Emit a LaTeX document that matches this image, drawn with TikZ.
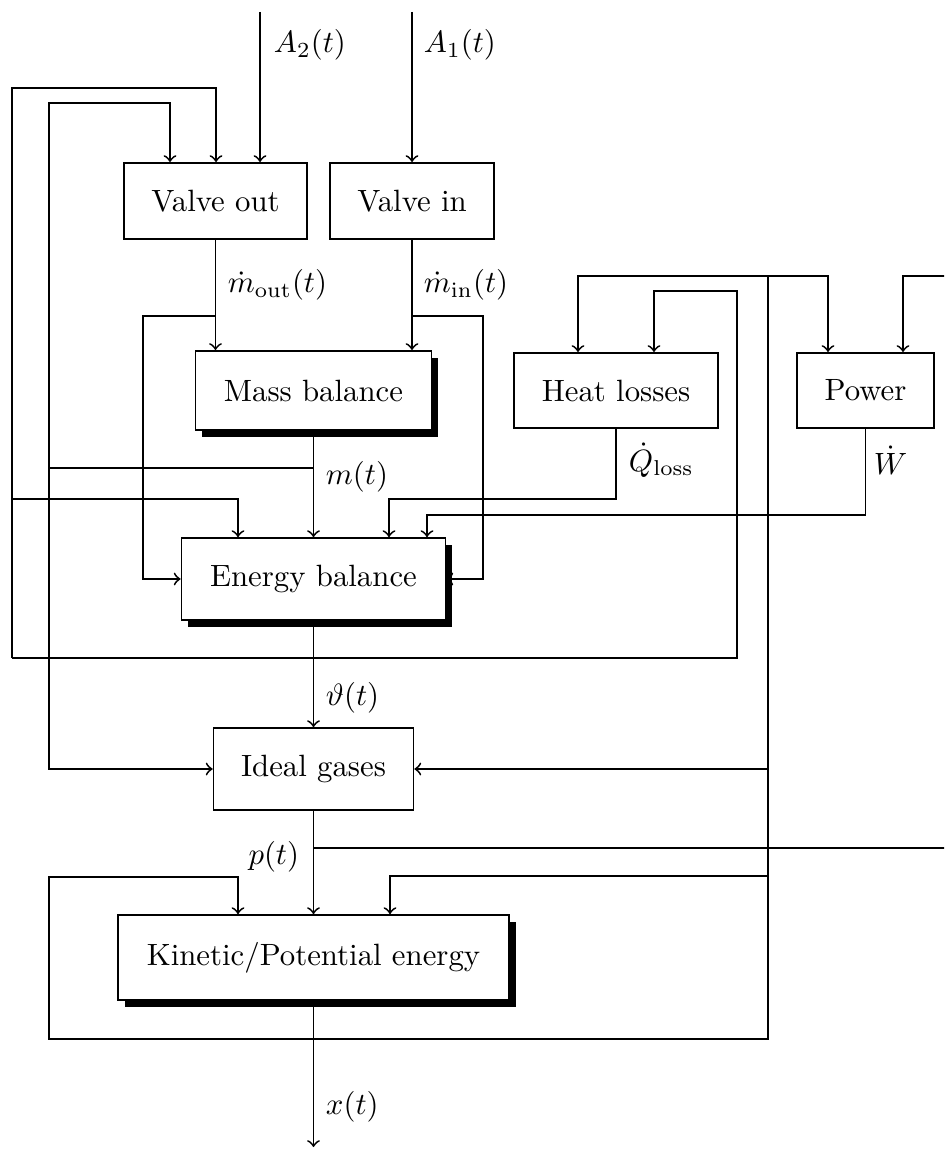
\documentclass[tikz,border=0pt]{standalone}
\usetikzlibrary{shadows}
\begin{document}
\begin{tikzpicture}[x=0.3247pt,y=-0.3247pt,line width=0.6pt,
  blk/.style={draw,fill=white,inner sep=0pt},
  sblk/.style={blk,drop shadow={shadow xshift=2.2pt,shadow yshift=-2.2pt,fill=black,opacity=1}},
  lbl/.style={inner sep=0pt,anchor=west},
  conn/.style={->}]
\clip (0,0) rectangle (944,1149);
% blocks
\node[blk,minimum width=59.4pt,minimum height=24.7pt] (vout) at (215.5,201) {Valve out};
\node[blk,minimum width=53.3pt,minimum height=24.7pt] (vin) at (412,201) {Valve in};
\node[sblk,minimum width=76.6pt,minimum height=25.7pt] (mass) at (313.5,390.5) {Mass balance};
\node[sblk,minimum width=85.7pt,minimum height=26.6pt] (energy) at (313.5,579) {Energy balance};
\node[blk,minimum width=66.2pt,minimum height=24.4pt] (heat) at (616,390.5) {Heat losses};
\node[blk,minimum width=44.5pt,minimum height=24.4pt] (power) at (865.5,390.5) {Power};
\node[blk,minimum width=64.9pt,minimum height=26.6pt] (ideal) at (313.5,769) {Ideal gases};
\node[sblk,minimum width=127pt,minimum height=27.6pt] (kin) at (313.5,957.5) {Kinetic/Potential energy};
% inputs A
\coordinate (a2s) at (260,12);
\coordinate (a1s) at (412,12);
\draw[conn] (a2s) -- (a2s |- vout.north);
\draw[conn] (a1s) -- (a1s |- vin.north);
\node[lbl] (la2) at (273,45) {$A_2(t)$};
\node[lbl] (la1) at (423,45) {$A_1(t)$};
% mass flows
\draw[conn] (vout.south) -- (vout.south |- mass.north);
\draw[conn] (vin.south) -- (vin.south |- mass.north);
\node[lbl] (lmo) at (227,285) {$\dot m_{\mathrm{out}}(t)$};
\node[lbl] (lmi) at (423,285) {$\dot m_{\mathrm{in}}(t)$};
\coordinate (jmo) at (215.5,316);
\coordinate (cmo) at (143,316);
\draw[conn] (jmo) -- (cmo) |- (energy.west);
\coordinate (jmi) at (412,316);
\coordinate (cmi) at (483,316);
\draw[conn] (jmi) -- (cmi) |- (energy.east);
% m(t)
\draw[conn] (mass.south) -- (energy.north);
\node[lbl] (lm) at (325,477) {$m(t)$};
\coordinate (jm) at (313.5,468);
\coordinate (cm1) at (49,468);
\coordinate (cm2) at (49,103);
\coordinate (cm3) at (170,103);
\draw[conn] (jm) -- (cm1) -- (cm2) -- (cm3) -- (cm3 |- vout.north);
\draw[conn] (cm1) |- (ideal.west);
% theta(t)
\draw[conn] (energy.south) -- (ideal.north);
\node[lbl] (lth) at (325,698) {$\vartheta(t)$};
\coordinate (ct1) at (12,658);
\coordinate (ct2) at (12,88);
\coordinate (ct3) at (216,88);
\coordinate (ct4) at (737,658);
\coordinate (ct5) at (737,291);
\coordinate (ct6) at (654,291);
\coordinate (ct7) at (12,499);
\coordinate (ct8) at (238,499);
\draw[conn] (ct1) -- (ct2) -- (ct3) -- (ct3 |- vout.north);
\draw[conn] (ct1) -- (ct4) -- (ct5) -- (ct6) -- (ct6 |- heat.north);
\draw[conn] (ct7) -- (ct8) -- (ct8 |- energy.north);
% heat losses
\coordinate (ch2) at (389,499);
\draw[conn] (heat.south) |- (ch2) -- (ch2 |- energy.north);
\node[lbl] (lq) at (628,460) {$\dot Q_{\mathrm{loss}}$};
% power
\coordinate (cw) at (427,515);
\draw[conn] (power.south) |- (cw) -- (cw |- energy.north);
\node[lbl] (lw) at (873,460) {$\dot W$};
% p(t)
\draw[conn] (ideal.south) -- (kin.north);
\node[inner sep=0pt,anchor=east] (lp) at (300,857) {$p(t)$};
\coordinate (jp) at (313.5,848);
\coordinate (cp1) at (952,848);
\coordinate (cp2) at (952,276);
\coordinate (cp3) at (903,276);
\draw[conn] (jp) -- (cp1) -- (cp2) -- (cp3) -- (cp3 |- power.north);
% x(t)
\coordinate (xend) at (313.5,1147);
\draw[conn] (kin.south) -- (xend);
\node[lbl] (lx) at (325,1107) {$x(t)$};
\coordinate (jx) at (313.5,1039);
\coordinate (cx1) at (49,1039);
\coordinate (cx2) at (49,877);
\coordinate (cx3) at (238,877);
\coordinate (cx4) at (768,1039);
\coordinate (cx5) at (768,876);
\coordinate (cx6) at (390,876);
\coordinate (cx7) at (768,276);
\coordinate (cx8) at (578,276);
\coordinate (cx9) at (828,276);
\draw[conn] (jx) -- (cx1) -- (cx2) -- (cx3) -- (cx3 |- kin.north);
\draw[conn] (jx) -- (cx4) -- (cx5) -- (cx6) -- (cx6 |- kin.north);
\draw[conn] (cx5) -- (cx7) -- (cx8) -- (cx8 |- heat.north);
\draw[conn] (cx7) -- (cx9) -- (cx9 |- power.north);
\draw[conn] (cx5 |- ideal.east) -- (ideal.east);
\end{tikzpicture}
\end{document}
